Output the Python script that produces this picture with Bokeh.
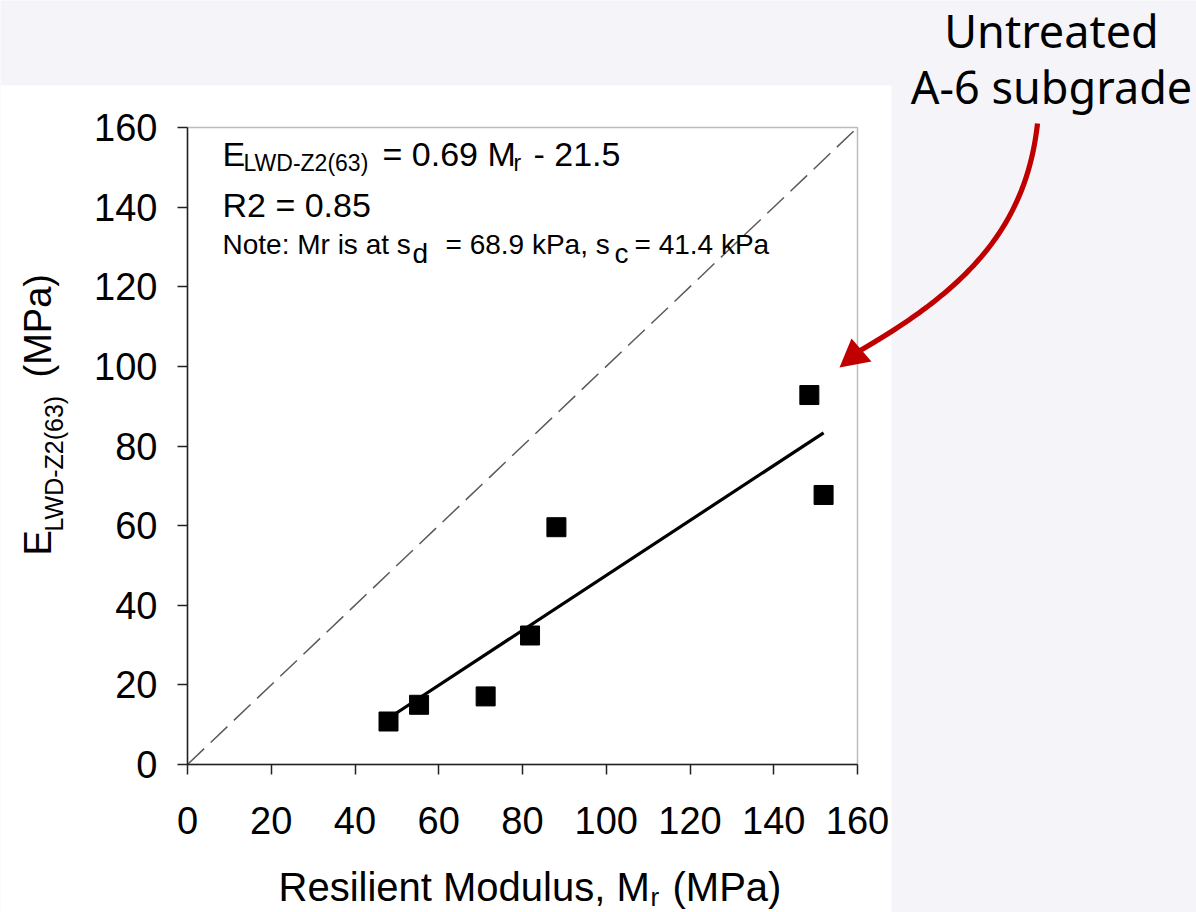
import numpy as np
from bokeh.plotting import figure
from bokeh.models import Range1d, Label, BoxAnnotation, PolyAnnotation, FixedTicker, LinearAxis
from bokeh.embed import file_html
from bokeh.resources import INLINE

# ---------------- data ----------------
mr_values = [48.0, 55.3, 71.2, 81.8, 88.1, 148.5, 151.9]     # Resilient modulus Mr (MPa)
elwd_values = [10.8, 15.0, 17.1, 32.4, 59.6, 92.8, 67.7]     # E_LWD-Z2(63) (MPa)
fit_slope = 0.69
fit_intercept = -21.5
equality_line = [0, 160]
x_ticks = [0, 20, 40, 60, 80, 100, 120, 140, 160]
y_ticks = [0, 20, 40, 60, 80, 100, 120, 140, 160]

# ---------------- layout (pixels) ----------------
W, H = 1196, 912
FL, FR, FT, FB = 187, 857, 127, 764   # chart box edges in page pixels
X0, X1, Y0, Y1 = 0, 160, 0, 160


def dx(px):
    return X0 + (px - FL) * (X1 - X0) / (FR - FL)


def dy(py):
    return Y0 + (FB - py) * (Y1 - Y0) / (FB - FT)


p = figure(width=W, height=H, x_range=Range1d(dx(0), dx(W)), y_range=Range1d(dy(H), dy(0)),
           output_backend="svg", toolbar_location=None, min_border=0,
           x_axis_location=None, y_axis_location=None,
           border_fill_color="#f5f5f9", background_fill_color="#f5f5f9",
           outline_line_color=None)

# white picture area behind the chart
p.add_layout(BoxAnnotation(left=dx(0), right=dx(891), top=dy(85), bottom=dy(H),
                           fill_color="white", fill_alpha=1.0, line_alpha=0,
                           level="underlay"))
# chart box
p.add_layout(BoxAnnotation(left=X0, right=X1, top=Y1, bottom=Y0,
                           fill_alpha=0, line_color="#222222", line_width=1.5,
                           level="underlay"))

xaxis = LinearAxis(fixed_location=Y0, bounds=(X0, X1))
yaxis = LinearAxis(fixed_location=X0, bounds=(Y0, Y1))
p.add_layout(xaxis, "below")
p.add_layout(yaxis, "left")
p.grid.visible = False
for ax, ticks in ((xaxis, x_ticks), (yaxis, y_ticks)):
    ax.ticker = FixedTicker(ticks=ticks)
    ax.minor_tick_line_color = None
    ax.major_tick_in = 0
    ax.major_tick_out = 10
    ax.major_tick_line_color = "#222222"
    ax.major_tick_line_width = 1.5
    ax.axis_line_color = "#222222"
    ax.axis_line_width = 1.5
    ax.major_label_text_font = "Liberation Sans"
    ax.major_label_text_font_size = "38px"
    ax.major_label_text_color = "black"
    ax.axis_label = None
xaxis.major_label_standoff = 32
yaxis.major_label_standoff = 20

# 1:1 line
p.line(equality_line, equality_line, line_color="#5a5a5a", line_width=1.5, line_dash="23 9")

# regression line
fx = [min(mr_values), max(mr_values)]
fy = [fit_slope * v + fit_intercept for v in fx]
p.line(fx, fy, line_color="black", line_width=3.2)

# data points
p.scatter(mr_values, elwd_values, marker="square", size=19, fill_color="black", line_color="black")


def lab(text, px, py, size, font="Liberation Sans", angle=0.0, color="black", align="left"):
    p.add_layout(Label(x=dx(px), y=dy(py), text=text, text_font=font,
                       text_font_size=f"{size}px", text_color=color, angle=angle,
                       text_align=align, text_baseline="alphabetic"))


# equation block
lab("E", 222, 153, 34)
lab("LWD-Z2(63)", 243, 162, 23)
lab("= 0.69 M", 382, 153, 34)
lab("r", 513, 162, 23)
lab("- 21.5", 533, 153, 34)
lab("R2 = 0.85", 222, 204, 34)
lab("Note: Mr is at  s", 222, 244, 28)
lab("d", 412, 253, 28)
lab("= 68.9 kPa, s", 445, 244, 28)
lab("c", 614, 253, 28)
lab("= 41.4 kPa", 634, 244, 28)

# axis titles
lab("Resilient Modulus, M", 278, 886, 40)
lab("r", 650, 896, 26)
lab("(MPa)", 672, 886, 40)
lab("E", 37, 555, 38, angle=np.pi / 2)
lab("LWD-Z2(63)", 53, 531, 25, angle=np.pi / 2)
lab("(MPa)", 37, 377, 38, angle=np.pi / 2)

# annotation text
lab("Untreated", 1051, 30, 45, font="Noto Sans", align="center")
lab("A-6 subgrade", 1051, 86, 45, font="Noto Sans", align="center")

# curved red arrow (ribbon polygon along a cubic Bezier, in page pixels)
P = np.array([[1037, 123], [1025, 232], [960, 292], [858, 351]], dtype=float)
t = np.linspace(0, 1, 80)[:, None]
curve = ((1 - t) ** 3) * P[0] + 3 * ((1 - t) ** 2) * t * P[1] + 3 * (1 - t) * t ** 2 * P[2] + t ** 3 * P[3]
d = np.gradient(curve, axis=0)
n = np.stack([-d[:, 1], d[:, 0]], axis=1)
n /= np.linalg.norm(n, axis=1)[:, None]
half = 2.6
ribbon = np.vstack([curve + n * half, (curve - n * half)[::-1]])
p.add_layout(PolyAnnotation(xs=[dx(v) for v in ribbon[:, 0]], ys=[dy(v) for v in ribbon[:, 1]],
                            xs_units="data", ys_units="data",
                            fill_color="#c00000", fill_alpha=1.0, line_alpha=0))
head = [(839, 367), (851, 338), (871, 361)]
p.add_layout(PolyAnnotation(xs=[dx(a) for a, b in head], ys=[dy(b) for a, b in head],
                            xs_units="data", ys_units="data",
                            fill_color="#c00000", fill_alpha=1.0, line_alpha=0))

open("out.html", "w").write(file_html(p, INLINE))
